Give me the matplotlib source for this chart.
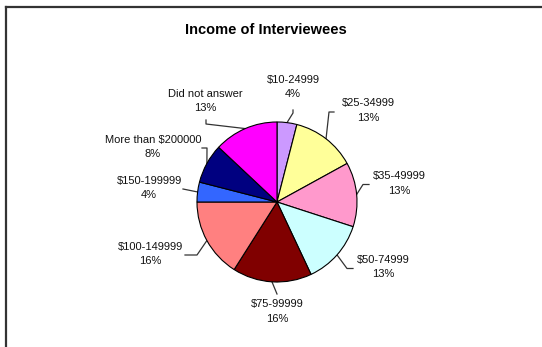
#!/usr/bin/env python3
"""Pie chart of interviewee income brackets."""

import numpy as np
import matplotlib
matplotlib.use("Agg")
import matplotlib.pyplot as plt

categories = ["$10-24999", "$25-34999", "$35-49999", "$50-74999", "$75-99999",
              "$100-149999", "$150-199999", "More than $200000", "Did not answer"]
percents = [4, 13, 13, 13, 16, 16, 4, 8, 13]
colors = ["#CC99FF", "#FFFF99", "#FF99CC", "#CCFFFF", "#800000",
          "#FF8080", "#3366FF", "#000080", "#FF00FF"]

W, H = 542, 347
CENTER = (277, H - 202)
RADIUS = 80

# label centres in pixel space (x, y measured from the top)
label_pos = [(293, 87), (368, 110.5), (399, 183.5), (383, 267), (277, 311.5),
             (150, 254), (149, 188), (153, 147), (205, 101)]
# leader line: elbow point, then end point next to the label
leader_pts = [((293, 113), (293, 110)), ((329, 112), (334, 112)),
              ((363, 184.5), (369, 184.5)), ((347, 268.5), (353, 268.5)),
              ((277, 294), (277, 294)), ((197, 255), (185, 255)),
              ((183, 189), (183, 189)), ((207, 148), (202, 148)),
              ((206, 124), (206, 120))]

plt.rcParams["font.family"] = ["Liberation Sans", "DejaVu Sans"]

fig = plt.figure(figsize=(W / 100, H / 100), dpi=100)
ax = fig.add_axes([0, 0, 1, 1])

wedges, _ = ax.pie(percents, colors=colors, startangle=90, counterclock=False,
                   center=CENTER, radius=RADIUS, frame=True,
                   wedgeprops=dict(edgecolor="black", linewidth=0.8))
ax.set_xlim(0, W)
ax.set_ylim(0, H)
ax.axis("off")

for w, cat, pct, (lx, ly), (elbow, end) in zip(wedges, categories, percents,
                                               label_pos, leader_pts):
    mid = np.deg2rad((w.theta1 + w.theta2) / 2)
    ex = CENTER[0] + RADIUS * np.cos(mid)
    ey = CENTER[1] + RADIUS * np.sin(mid)
    ax.plot([ex, elbow[0], end[0]], [ey, H - elbow[1], H - end[1]],
            color="#333333", lw=0.9, zorder=0)
    ax.text(lx, H - ly, f"{cat}\n{pct}%", ha="center", va="center",
            fontsize=8, linespacing=1.55, color="#111111")

ax.text(266, H - 29.5, "Income of Interviewees", ha="center", va="center",
        fontsize=10.5, fontweight="bold")

# chart frame: top and left edges
ax.plot([6, W], [H - 6.5, H - 6.5], color="#333333", lw=1.6, clip_on=False)
ax.plot([6, 6], [H - 6.5, 0], color="#333333", lw=1.6, clip_on=False)

fig.savefig("out.png", dpi=100)
